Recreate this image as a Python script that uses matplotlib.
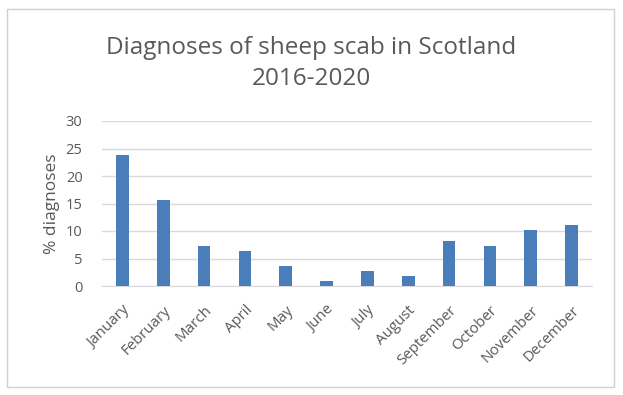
import matplotlib

matplotlib.use("Agg")
import matplotlib.pyplot as plt
from matplotlib.patches import Rectangle

months = ["January", "February", "March", "April", "May", "June",
          "July", "August", "September", "October", "November", "December"]
pct_diagnoses = [23.9, 15.6, 7.2, 6.3, 3.6, 0.9, 2.7, 1.8, 8.1, 7.3, 10.1, 11.1]
y_ticks = [0, 5, 10, 15, 20, 25, 30]

BAR = "#4a7ebb"
GRID = "#d9d9d9"
TEXT = "#595959"

plt.rcParams["font.family"] = ["Open Sans", "DejaVu Sans"]

fig = plt.figure(figsize=(6.23, 3.95), dpi=100)
fig.patches.append(Rectangle((0.012, 0.02), 0.974, 0.958, transform=fig.transFigure,
                             fill=False, edgecolor="#d0d0d0", linewidth=1.0))

ax = fig.add_axes([102 / 623, 1 - 286 / 395, 490 / 623, 165 / 395])
x = range(len(months))
ax.bar(x, pct_diagnoses, width=0.31, color=BAR, zorder=3)
ax.set_xlim(-0.5, len(months) - 0.5)
ax.set_ylim(0, 30)
ax.set_yticks(y_ticks)
ax.set_xticks(list(x))
ax.set_xticklabels(months, rotation=45, ha="right", rotation_mode="anchor")
ax.tick_params(axis="y", length=0, colors=TEXT, labelsize=10.5, pad=14)
ax.tick_params(axis="x", length=0, colors=TEXT, labelsize=10.8, pad=12)
ax.grid(axis="y", color=GRID, linewidth=1.0, zorder=0)
for side in ["top", "right", "left"]:
    ax.spines[side].set_visible(False)
ax.spines["bottom"].set_color(GRID)
ax.set_ylabel("% diagnoses", color=TEXT, fontsize=12.5, labelpad=4)

fig.text(0.5, 1 - 48 / 395, "Diagnoses of sheep scab in Scotland", ha="center",
         va="center", fontsize=17.5, color=TEXT)
fig.text(0.5, 1 - 79 / 395, "2016-2020", ha="center", va="center",
         fontsize=17.5, color=TEXT)

fig.savefig("out.png", dpi=100)
